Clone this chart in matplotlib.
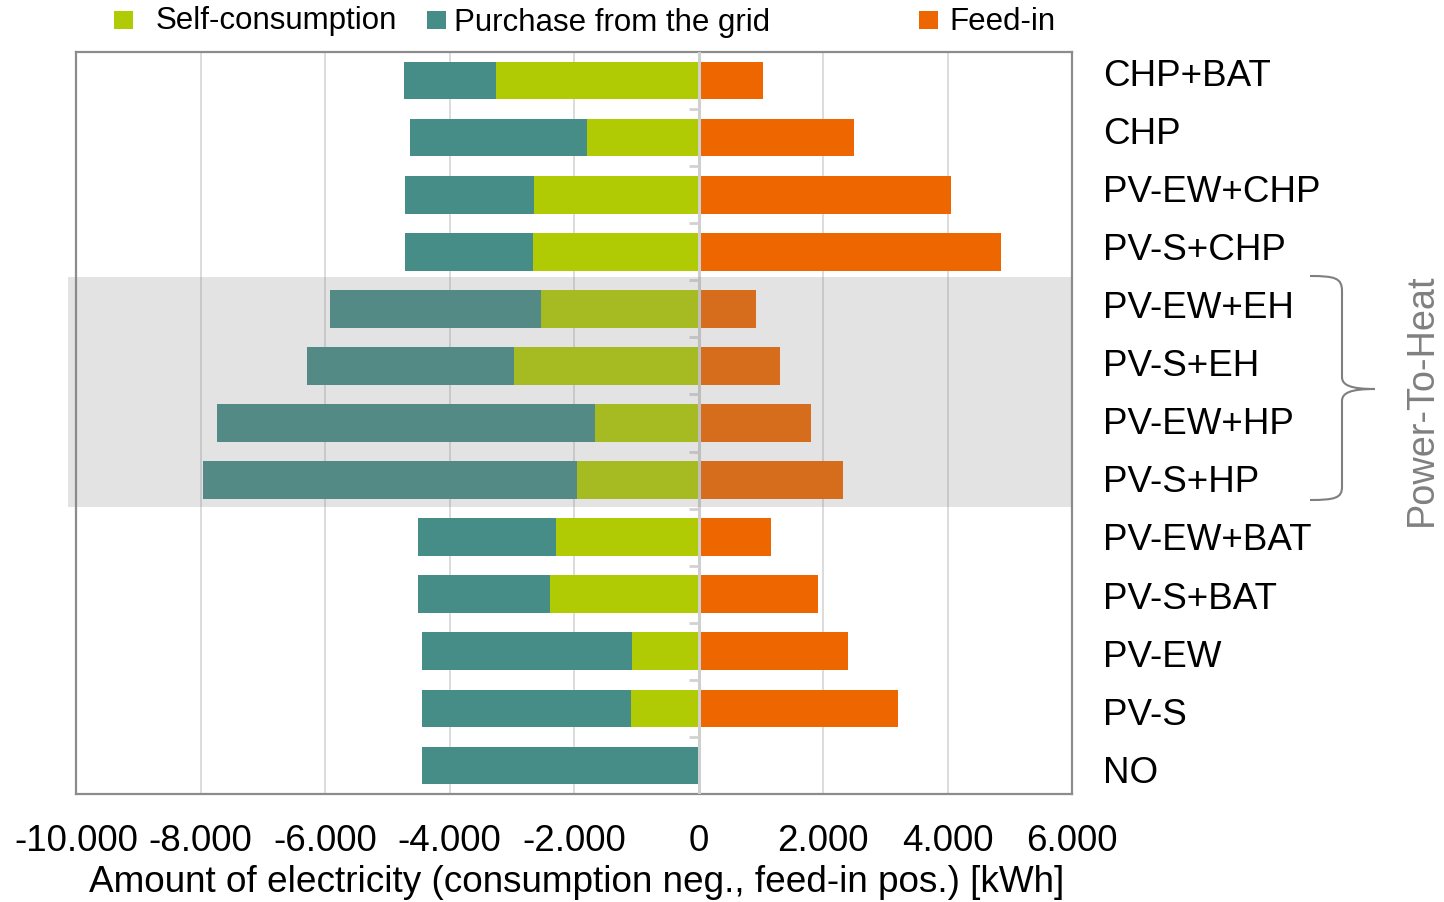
import numpy as np
import matplotlib.pyplot as plt
from matplotlib.patches import Rectangle, PathPatch
from matplotlib.path import Path
from matplotlib.ticker import FuncFormatter

plt.rcParams['font.family'] = ['Liberation Sans', 'DejaVu Sans']

# data (kWh), top row first
categories = ['CHP+BAT', 'CHP', 'PV-EW+CHP', 'PV-S+CHP', 'PV-EW+EH', 'PV-S+EH',
              'PV-EW+HP', 'PV-S+HP', 'PV-EW+BAT', 'PV-S+BAT', 'PV-EW', 'PV-S', 'NO']
self_consumption = [3245, 1799, 2635, 2651, 2538, 2956, 1655, 1944, 2297, 2378, 1076, 1092, 0]
purchase = [1478, 2828, 2072, 2056, 3374, 3341, 6072, 6008, 2217, 2136, 3358, 3342, 4434]
feed_in = [1044, 2490, 4064, 4867, 916, 1317, 1815, 2329, 1157, 1912, 2394, 3197, 0]
xticks = [-10000, -8000, -6000, -4000, -2000, 0, 2000, 4000, 6000]
p2h = ['PV-EW+EH', 'PV-S+EH', 'PV-EW+HP', 'PV-S+HP']

c_self = '#B0CB04'
c_buy = '#468C87'
c_feed = '#EE6600'

W, H = 1444, 903
fig = plt.figure(figsize=(W / 100, H / 100), dpi=100)
ax = fig.add_axes([76 / W, 1 - 795 / H, (1072 - 76) / W, (795 - 53) / H])


def px(x, yy):
    return (x / W, 1 - yy / H)


y = np.arange(len(categories))
sc = np.array(self_consumption)
pu = np.array(purchase)
fi = np.array(feed_in)
h = 0.66

ax.barh(y, -pu, left=-sc, height=h, color=c_buy, zorder=3)
ax.barh(y, -sc, height=h, color=c_self, zorder=3)
ax.barh(y, fi, height=h, color=c_feed, zorder=3)

ax.set_xlim(-10000, 6000)
ax.set_ylim(len(categories) - 0.5, -0.5)
ax.set_xticks(xticks)
ax.xaxis.set_major_formatter(FuncFormatter(lambda v, p: f'{int(v):,}'.replace(',', '.')))
ax.grid(axis='x', color='#D6D6D6', lw=1.2, zorder=1)
ax.set_axisbelow(True)

# zero line with category separators
ax.axvline(0, color='#CFCFCF', lw=2.2, zorder=4)
for k in range(len(categories) - 1):
    ax.plot([-160, 0], [k + 0.5, k + 0.5], color='#D2D2D2', lw=2, zorder=4,
            solid_capstyle='butt')

ax.set_yticks([])
ax.tick_params(axis='x', length=0, pad=21, labelsize=26.5)
for s in ax.spines.values():
    s.set_color('#8C8C8C')
    s.set_linewidth(1.6)

# category labels to the right of the plot
for k, name in enumerate(categories):
    fig.text(1103 / W, 1 - (86 + k * 58.06) / H, name, fontsize=26.5,
             ha='left', va='baseline')

fig.text(577 / W, 1 - 892 / H,
         'Amount of electricity (consumption neg., feed-in pos.) [kWh]',
         fontsize=26.6, ha='center', va='baseline')

# Power-to-heat highlight band
i0 = categories.index(p2h[0])
i1 = categories.index(p2h[-1])
band = Rectangle((-0.008, i0 - 0.56), 1.008, (i1 - i0) + 1.03,
                 transform=ax.get_yaxis_transform(), facecolor=(134 / 255,) * 3,
                 alpha=0.2235, edgecolor='none', zorder=6, clip_on=False)
ax.add_patch(band)

# brace
verts = [(1310, 277), (1335, 277), (1342, 279), (1342, 292),
         (1342, 378),
         (1342, 386), (1350, 390), (1375, 390),
         (1350, 390), (1342, 394), (1342, 402),
         (1342, 488),
         (1342, 499), (1335, 501), (1310, 501)]
codes = [Path.MOVETO, Path.CURVE4, Path.CURVE4, Path.CURVE4,
         Path.LINETO,
         Path.CURVE4, Path.CURVE4, Path.CURVE4,
         Path.CURVE4, Path.CURVE4, Path.CURVE4,
         Path.LINETO,
         Path.CURVE4, Path.CURVE4, Path.CURVE4]
brace = PathPatch(Path([px(*v) for v in verts], codes), transform=fig.transFigure,
                  facecolor='none', edgecolor='#7F7F7F', lw=1.5)
fig.patches.append(brace)
fig.text(1422 / W, 1 - 400 / H, 'Power-To-Heat', rotation=90, color='#808080',
         fontsize=27.3, ha='center', va='center')

# legend
legend_items = [('Self-consumption', c_self, 114, 156, 29.5),
                ('Purchase from the grid', c_buy, 427, 454, 31.5),
                ('Feed-in', c_feed, 919, 949, 30.5)]
for label, col, sx, tx, base in legend_items:
    fig.patches.append(Rectangle(px(sx, 30), 19 / W, 18 / H, transform=fig.transFigure,
                                 facecolor=col, edgecolor='none'))
    fig.text(tx / W, 1 - base / H, label, fontsize=22.5, ha='left', va='baseline')

fig.savefig('out.png', dpi=100)
